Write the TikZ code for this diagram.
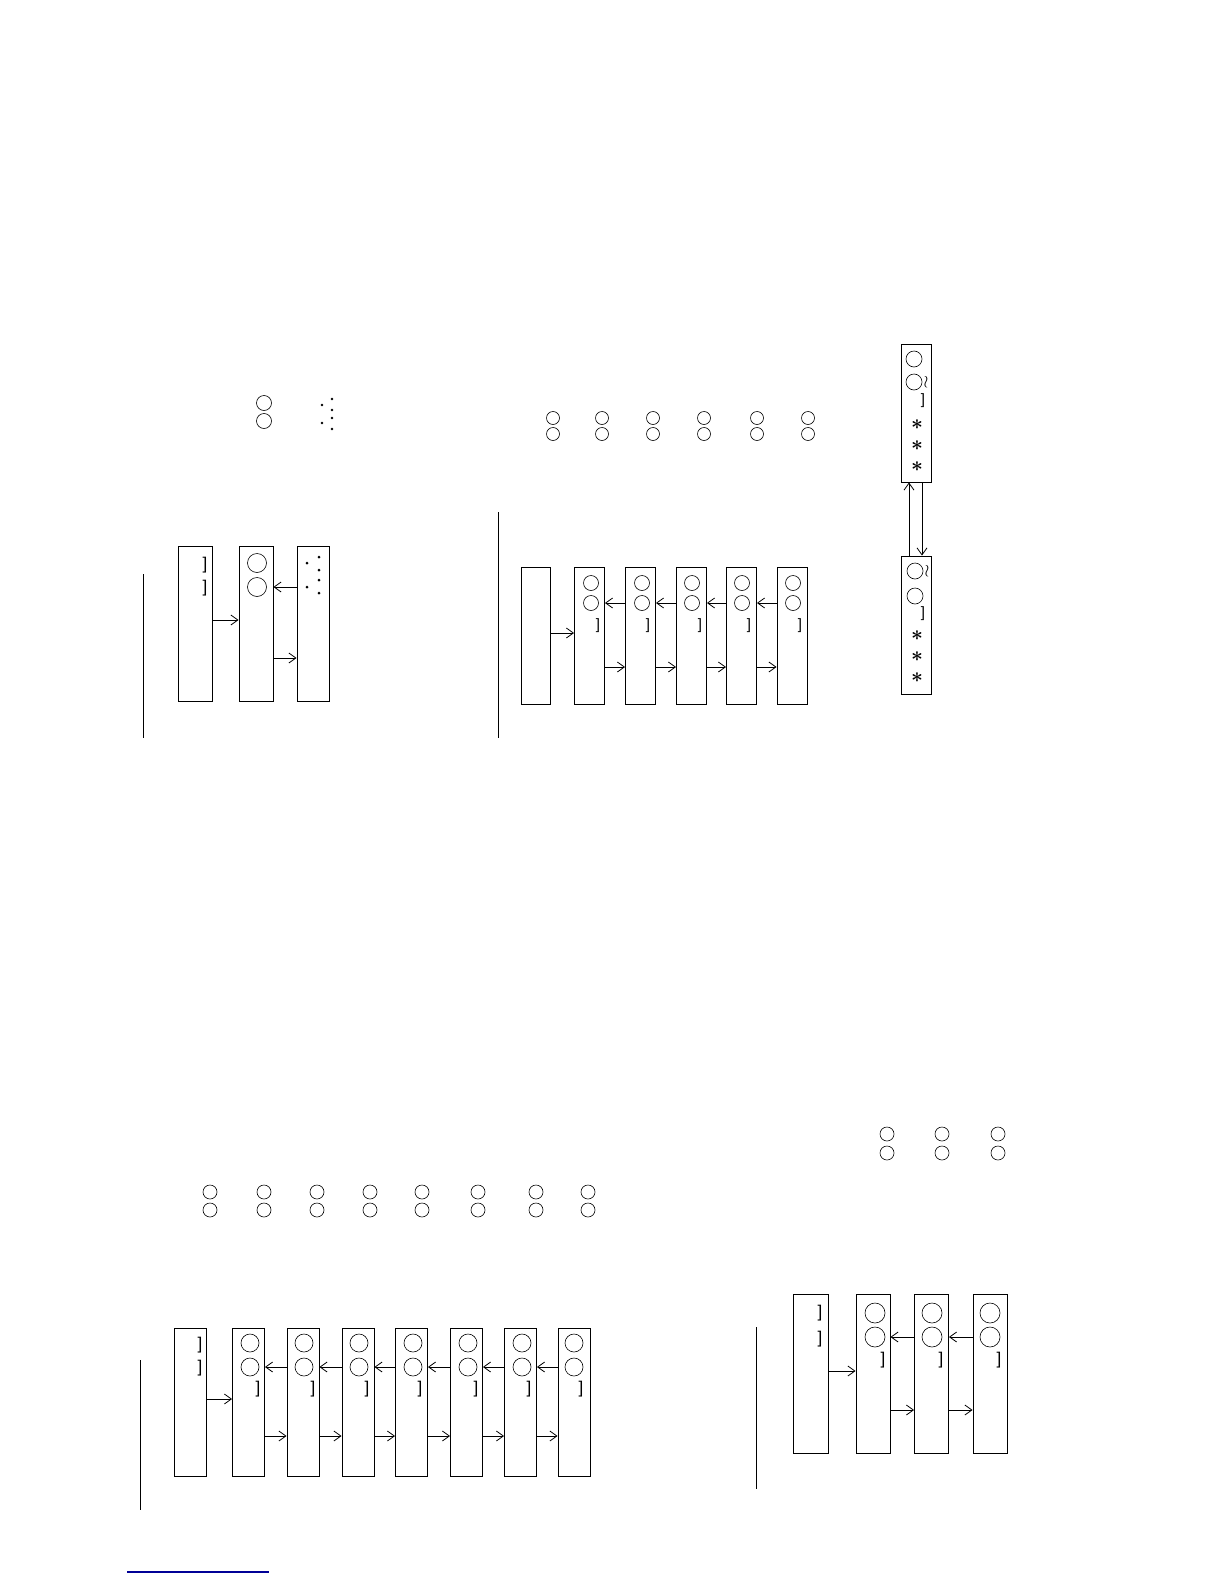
\documentclass[tikz,border=0pt]{standalone}
\usepackage{fontspec}
\setmainfont{Liberation Sans}
\usetikzlibrary{arrows.meta}
\begin{document}
\begin{tikzpicture}[x=1pt,y=-1pt,
  box/.style={draw,line width=0.9pt,inner sep=0pt},
  circ/.style={draw,circle,line width=0.6pt,inner sep=0pt,minimum size=#1},
  brk/.style={inner sep=0pt,font=\fontsize{17}{17}\selectfont},
  star/.style={inner sep=0pt,font=\fontsize{21}{21}\selectfont\boldmath},
  wave/.style={inner sep=0pt,font=\fontsize{17}{17}\selectfont},
  arr/.style={-{Straight Barb[length=7pt,width=10pt]},line width=0.8pt},
  dotc/.style={fill=black,circle,inner sep=0pt,minimum size=3pt},
  rule/.style={line width=1pt}]
\useasboundingbox (0,0) rectangle (1224,1584);

% ---------------- Diagram 1 ----------------
\coordinate (v1a) at (143,574); \coordinate (v1b) at (143,738);
\draw[rule] (v1a) -- (v1b);
\node[circ=15pt] (t1a) at (264,403) {};
\node[circ=15pt] (t1b) at (264,421) {};
\foreach \n/\x/\y in {p1/332/399,p2/322/405,p3/332/410,p4/332/418,p5/322/423,p6/332/429}
  \node[dotc,minimum size=2.6pt] (\n) at (\x,\y) {};
\node[box,minimum width=34pt,minimum height=155pt] (A1) at (195,623.5) {};
\node[box,minimum width=34pt,minimum height=155pt] (B1) at (256,623.5) {};
\node[box,minimum width=32pt,minimum height=155pt] (C1) at (313,623.5) {};
\node[brk] (A1k1) at (205,565) {]};
\node[brk] (A1k2) at (205,588) {]};
\node[circ=19pt] (B1c1) at (257,563) {};
\node[circ=19pt] (B1c2) at (257,587) {};
\foreach \n/\x/\y in {q1/319/557,q2/307/563,q3/319/570,q4/319/580,q5/307/587,q6/319/593}
  \node[dotc] (\n) at (\x,\y) {};
\draw[arr] (A1.east |- 0,620) -- (B1.west |- 0,620);
\draw[arr] (C1.west |- 0,587) -- (B1.east |- 0,587);
\draw[arr] (B1.east |- 0,658) -- (C1.west |- 0,658);

% ---------------- Diagram 2 ----------------
\coordinate (v2a) at (498,512); \coordinate (v2b) at (498,738);
\draw[rule] (v2a) -- (v2b);
\foreach \i/\x in {1/553,2/602,3/653,4/704,5/757,6/808} {
  \node[circ=13pt] (t2\i a) at (\x,418) {};
  \node[circ=13pt] (t2\i b) at (\x,434) {};
}
\node[box,minimum width=29pt,minimum height=137pt] (D0) at (535.5,635.5) {};
\foreach \i/\x/\cx/\kx in {1/589.5/591/598,2/640.5/642/648,3/691.5/692/700,4/741.5/742/749,5/792/793/800} {
  \node[box,minimum width=30pt,minimum height=137pt] (D\i) at (\x,635.5) {};
  \node[circ=15pt] (D\i c1) at (\cx,583) {};
  \node[circ=15pt] (D\i c2) at (\cx,603) {};
  \node[brk,font=\fontsize{15}{15}\selectfont] (D\i k) at (\kx,626) {]};
}
\draw[arr] (D0.east |- 0,633) -- (D1.west |- 0,633);
\foreach \i/\j in {1/2,2/3,3/4,4/5} {
  \draw[arr] (D\j.west |- 0,603) -- (D\i.east |- 0,603);
  \draw[arr] (D\i.east |- 0,667) -- (D\j.west |- 0,667);
}

% ---------------- Diagram 3 ----------------
\node[box,minimum width=30pt,minimum height=138pt] (E1) at (916,413) {};
\node[box,minimum width=30pt,minimum height=138pt] (E2) at (916,625) {};
\node[circ=16pt] (E1c1) at (914,359) {};
\node[circ=16pt] (E1c2) at (914,382) {};
\node[wave] (E1w) at (926,382) {$\wr$};
\node[brk,font=\fontsize{15}{15}\selectfont] (E1k) at (923,401) {]};
\node[star] (E1s1) at (917,425) {$\ast$};
\node[star] (E1s2) at (917,446) {$\ast$};
\node[star] (E1s3) at (917,467) {$\ast$};
\node[circ=16pt] (E2c1) at (915,571) {};
\node[circ=16pt] (E2c2) at (915,596) {};
\node[wave] (E2w) at (927,571) {$\wr$};
\node[brk,font=\fontsize{15}{15}\selectfont] (E2k) at (923,614) {]};
\node[star] (E2s1) at (917,636) {$\ast$};
\node[star] (E2s2) at (917,657) {$\ast$};
\node[star] (E2s3) at (917,678) {$\ast$};
\draw[arr] (E2.north -| 909,0) -- (E1.south -| 909,0);
\draw[arr] (E1.south -| 922,0) -- (E2.north -| 922,0);

% ---------------- Diagram 4 ----------------
\coordinate (v4a) at (140,1360); \coordinate (v4b) at (140,1510);
\draw[rule] (v4a) -- (v4b);
\foreach \i/\x in {1/210,2/264,3/317,4/370,5/422,6/478,7/536,8/588} {
  \node[circ=14pt] (t4\i a) at (\x,1192) {};
  \node[circ=14pt] (t4\i b) at (\x,1210) {};
}
\node[box,minimum width=32pt,minimum height=148pt] (F0) at (190,1402) {};
\node[brk] (F0k1) at (200,1345) {]};
\node[brk] (F0k2) at (200,1368) {]};
\foreach \i/\x/\cx/\kx in {1/248.5/250/258,2/303/304/313,3/358/359/367,4/411.5/413/420,5/466.5/468/476,6/520.5/522/529,7/574/574/581} {
  \node[box,minimum width=32pt,minimum height=148pt] (F\i) at (\x,1402) {};
  \node[circ=18pt] (F\i c1) at (\cx,1343) {};
  \node[circ=18pt] (F\i c2) at (\cx,1367) {};
  \node[brk] (F\i k) at (\kx,1389) {]};
}
\draw[arr] (F0.east |- 0,1399) -- (F1.west |- 0,1399);
\foreach \i/\j in {1/2,2/3,3/4,4/5,5/6,6/7} {
  \draw[arr] (F\j.west |- 0,1367) -- (F\i.east |- 0,1367);
  \draw[arr] (F\i.east |- 0,1436) -- (F\j.west |- 0,1436);
}

% ---------------- Diagram 5 ----------------
\coordinate (v5a) at (756,1327); \coordinate (v5b) at (756,1489);
\draw[rule] (v5a) -- (v5b);
\foreach \i/\x in {1/887,2/942,3/998} {
  \node[circ=14pt] (t5\i a) at (\x,1134) {};
  \node[circ=14pt] (t5\i b) at (\x,1153) {};
}
\node[box,minimum width=35pt,minimum height=159pt] (G0) at (810.5,1373.5) {};
\node[brk] (G0k1) at (820,1313) {]};
\node[brk] (G0k2) at (820,1339) {]};
\foreach \i/\x/\cx/\kx in {1/873/875/883,2/931.5/932/941,3/990/990/999} {
  \node[box,minimum width=34pt,minimum height=159pt] (G\i) at (\x,1373.5) {};
  \node[circ=20pt] (G\i c1) at (\cx,1313) {};
  \node[circ=20pt] (G\i c2) at (\cx,1337) {};
  \node[brk] (G\i k) at (\kx,1360) {]};
}
\draw[arr] (G0.east |- 0,1371) -- (G1.west |- 0,1371);
\foreach \i/\j in {1/2,2/3} {
  \draw[arr] (G\j.west |- 0,1337) -- (G\i.east |- 0,1337);
  \draw[arr] (G\i.east |- 0,1410) -- (G\j.west |- 0,1410);
}

% ---------------- footer line ----------------
\coordinate (f1) at (127,1572); \coordinate (f2) at (269,1572);
\draw[line width=1.2pt,color={rgb,255:red,0;green,0;blue,150}] (f1) -- (f2);
\end{tikzpicture}
\end{document}
